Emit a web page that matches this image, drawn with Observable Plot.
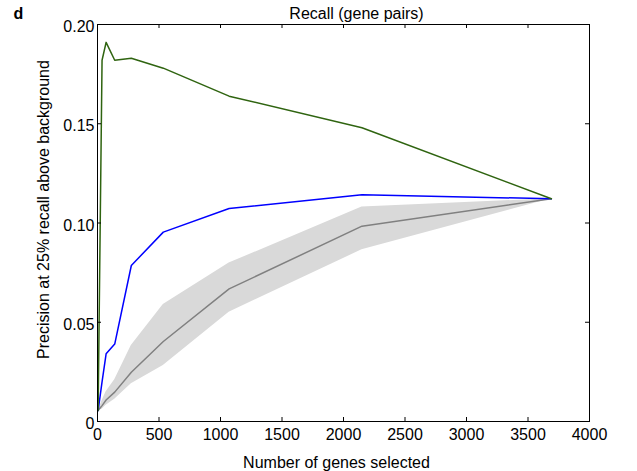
<!DOCTYPE html>
<html>
<head>
<meta charset="utf-8">
<script src="https://cdn.jsdelivr.net/npm/d3@7"></script>
<script src="https://cdn.jsdelivr.net/npm/@observablehq/plot@0.6"></script>
<style>
  html, body { margin: 0; padding: 0; background: #fff; }
  svg { display: block; }
</style>
</head>
<body>
<div id="chart"></div>
<script>
// ---- Data ----
const genesSelected = [5, 37, 70, 140, 275, 535, 1070, 2150, 3690];
const greenSeries   = [0.0055, 0.182, 0.191, 0.182, 0.183, 0.178, 0.1639, 0.148, 0.1122];
const blueSeries    = [0.0055, 0.020, 0.0341, 0.039, 0.0786, 0.0954, 0.1073, 0.1142, 0.1122];
const grayMean      = [0.0055, 0.008, 0.0108, 0.0148, 0.0248, 0.0403, 0.0668, 0.0984, 0.1122];
const grayLow       = [0.0055, 0.0062, 0.0082, 0.0112, 0.019, 0.0282, 0.0551, 0.0865, 0.1122];
const grayHigh      = [0.0055, 0.0105, 0.015, 0.021, 0.0383, 0.0589, 0.0798, 0.108, 0.1122];
const xTicks = [0, 500, 1000, 1500, 2000, 2500, 3000, 3500, 4000];
const yTicks = [0, 0.05, 0.10, 0.15, 0.20];
const titleText = "Recall (gene pairs)";
const panelLetter = "d";
const xLabel = "Number of genes selected";
const yLabel = "Precision at 25% recall above background";

// ---- Build tables ----
const rows = genesSelected.map((x, i) => ({
  x, green: greenSeries[i], blue: blueSeries[i],
  mean: grayMean[i], lo: grayLow[i], hi: grayHigh[i]
}));

const W = 637, H = 471;
const mL = 97, mR = 48, mT = 24, mB = 50;
const plotW = W - mL - mR, plotH = H - mT - mB;
const tickLen = 4;
const font = "'Liberation Sans', Arial, Helvetica, sans-serif";

const chart = Plot.plot({
  width: W,
  height: H,
  marginLeft: mL,
  marginRight: mR,
  marginTop: mT,
  marginBottom: mB,
  style: { fontFamily: font, fontSize: "16px", color: "black", background: "white" },
  x: { domain: [0, 4000] },
  y: { domain: [0, 0.2] },
  marks: [
    Plot.areaY(rows, { x: "x", y1: "lo", y2: "hi", fill: "#d9d9d9", curve: "linear" }),
    Plot.lineY(rows, { x: "x", y: "mean", stroke: "#808080", strokeWidth: 1.5 }),
    Plot.lineY(rows, { x: "x", y: "blue", stroke: "#0000ff", strokeWidth: 1.5 }),
    Plot.lineY(rows, { x: "x", y: "green", stroke: "#2f6410", strokeWidth: 1.5 }),
    // inward ticks on all four sides
    Plot.tickX(xTicks, { x: d => d, insetTop: plotH - tickLen, stroke: "black" }),
    Plot.tickX(xTicks, { x: d => d, insetBottom: plotH - tickLen, stroke: "black" }),
    Plot.tickY(yTicks, { y: d => d, insetRight: plotW - tickLen, stroke: "black" }),
    Plot.tickY(yTicks, { y: d => d, insetLeft: plotW - tickLen, stroke: "black" }),
    Plot.frame({ stroke: "black", strokeWidth: 1 }),
    Plot.axisX(xTicks, { tickSize: 0, tickPadding: 7, label: null, fontSize: 16, tickFormat: d => String(d) }),
    Plot.axisY(yTicks, { tickSize: 0, tickPadding: 3, label: null, fontSize: 16, dy: 2.5,
      tickFormat: d => d === 0 ? "0" : d.toFixed(2) }),
    Plot.text([xLabel], { frameAnchor: "bottom", dy: 46, dx: -7, lineAnchor: "bottom", fontSize: 16, fill: "black" }),
    Plot.text([yLabel], { frameAnchor: "left", textAnchor: "middle", rotate: -90, dx: -49, dy: -13.5, lineAnchor: "bottom", fontSize: 16, fill: "black" }),
    Plot.text([titleText], { frameAnchor: "top", dx: 13, dy: -6, lineAnchor: "bottom", fontSize: 16, fill: "black" }),
    Plot.text([panelLetter], { frameAnchor: "top-left", dx: -84, dy: -6, lineAnchor: "bottom", textAnchor: "start", fontSize: 16, fontWeight: "bold", fill: "black" })
  ]
});
document.getElementById("chart").appendChild(chart);
</script>
</body>
</html>
